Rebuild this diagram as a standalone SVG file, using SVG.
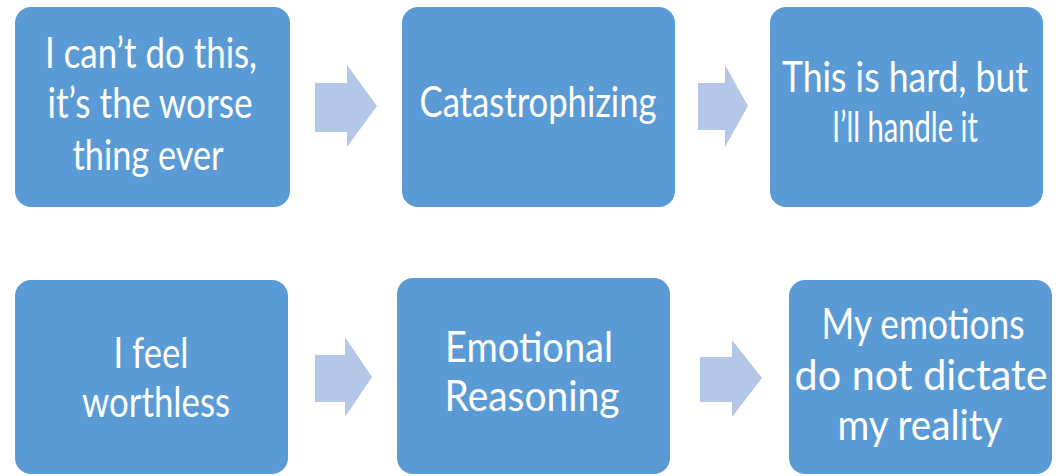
<svg xmlns="http://www.w3.org/2000/svg" width="1056" height="476" viewBox="0 0 1056 476">
<style>
.box{fill:#5B9BD5;}
.arr{fill:#B4C7E7;}
text{font-family:Lato,"Open Sans","Liberation Sans",sans-serif;font-size:42px;fill:#FFFFFF;text-anchor:middle;}
</style>
<rect width="1056" height="476" fill="#FFFFFF"/>
<g id="connectors">
<polygon class="arr" points="315,83 347,83 347,65 377,106 347,147 347,132 315,132"/>
<polygon class="arr" points="698,83 725,83 725,65 748,106 725,147 725,130 698,130"/>
<polygon class="arr" points="315,355 345,355 345,337 372,377 345,417 345,402 315,402"/>
<polygon class="arr" points="700,357 732,357 732,340 762,378 732,417 732,402 700,402"/>
</g>
<g id="n1"><rect class="box" x="15" y="7" width="275" height="200" rx="16"/>
<text transform="translate(151,68) scale(0.8,1)" textLength="265" lengthAdjust="spacingAndGlyphs">I can’t do this,</text>
<text transform="translate(150,118) scale(0.8,1)" textLength="256.25" lengthAdjust="spacingAndGlyphs">it’s the worse</text>
<text transform="translate(148,170) scale(0.8,1)" textLength="188.75" lengthAdjust="spacingAndGlyphs">thing ever</text></g>
<g id="n2"><rect class="box" x="402" y="7" width="273" height="200" rx="16"/>
<text transform="translate(538,117) scale(0.8,1)" textLength="296.25" lengthAdjust="spacingAndGlyphs">Catastrophizing</text></g>
<g id="n3"><rect class="box" x="770" y="7" width="273" height="200" rx="16"/>
<text transform="translate(905,92) scale(0.8,1)" textLength="307.5" lengthAdjust="spacingAndGlyphs">This is hard, but</text>
<text transform="translate(905,142) scale(0.8,1)" textLength="182.5" lengthAdjust="spacingAndGlyphs">I’ll handle it</text></g>
<g id="n4"><rect class="box" x="15" y="280" width="273" height="194" rx="16"/>
<text transform="translate(151,368) scale(0.8,1)" textLength="93.75" lengthAdjust="spacingAndGlyphs">I feel</text>
<text transform="translate(156,417) scale(0.8,1)" textLength="185" lengthAdjust="spacingAndGlyphs">worthless</text></g>
<g id="n5"><rect class="box" x="397" y="278" width="273" height="196" rx="16"/>
<text transform="translate(529,362) scale(0.8,1)" textLength="210" lengthAdjust="spacingAndGlyphs">Emotional</text>
<text transform="translate(532,411) scale(0.8,1)" textLength="218.75" lengthAdjust="spacingAndGlyphs">Reasoning</text></g>
<g id="n6"><rect class="box" x="789" y="280" width="263" height="194" rx="16"/>
<text transform="translate(923,339) scale(0.8,1)" textLength="253.75" lengthAdjust="spacingAndGlyphs">My emotions</text>
<text transform="translate(921,390) scale(0.8,1)" textLength="316.25" lengthAdjust="spacingAndGlyphs">do not dictate</text>
<text transform="translate(920,440) scale(0.8,1)" textLength="206.25" lengthAdjust="spacingAndGlyphs">my reality</text></g>
</svg>
